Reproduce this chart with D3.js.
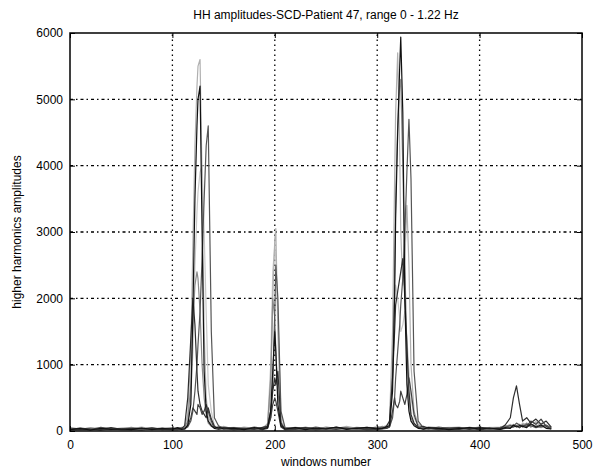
<!DOCTYPE html>
<html>
<head>
<meta charset="utf-8">
<script src="https://cdn.jsdelivr.net/npm/d3@7"></script>
<style>
  body { margin: 0; background: #fff; }
  svg text { font-family: "Liberation Sans", Arial, sans-serif; fill: #000; }
</style>
</head>
<body>
<div id="chart"></div>
<script>
// Data
// ------------------------------

var windows = [
  0, 10, 20, 30, 40, 50, 60, 70, 80, 90, 100,
  105, 109,
  112, 115, 118, 120, 122, 124, 125, 127, 129, 131, 133, 135, 138, 141,
  145, 150,
  160, 170, 180, 188,
  193, 196, 198, 200, 201, 203, 206,
  210, 220, 230, 240, 250, 260, 270, 280, 290, 300,
  305, 309,
  312, 315, 317, 318, 320, 322, 323, 325, 327, 329, 331, 333, 336, 340,
  345, 350,
  360, 370, 380, 390, 400, 410, 420,
  425, 430, 433, 436, 439, 442, 446, 450, 455, 460, 465, 470
];

var seriesA = [
  35, 20, 40, 45, 30, 40, 25, 35, 45, 25, 45,
  40, 30,
  40, 100, 500, 1200, 2500, 3300, 3600, 3900, 4000, 3000, 1800, 700, 300, 80,
  55, 45,
  55, 40, 45, 35,
  120, 1000, 2400, 2800, 2600, 1800, 250,
  45, 35, 55, 40, 45, 30, 50, 35, 60, 45,
  45, 55,
  90, 1200, 2000, 2200, 2000, 1700, 1500, 1600, 1800, 1400, 900, 500, 200, 80,
  45, 55,
  45, 55, 40, 50, 35, 55, 40,
  60, 100, 80, 90, 60, 100, 70, 90, 70, 120, 50, 60
];

var seriesB = [
  40, 25, 50, 30, 20, 45, 35, 60, 30, 50, 40,
  30, 55,
  60, 250, 1200, 2800, 4300, 5200, 5500, 5600, 3800, 1500, 500, 220, 100, 60,
  40, 70,
  30, 60, 40, 50,
  80, 600, 2000, 2900, 3050, 1500, 150,
  40, 30, 60, 25, 50, 35, 70, 40, 30, 50,
  60, 80,
  120, 1500, 3800, 4800, 5700, 4200, 3000, 2200, 2600, 3400, 2500, 1000, 300, 100,
  60, 40,
  30, 50, 60, 30, 40, 50, 60,
  80, 60, 100, 70, 50, 120, 90, 60, 140, 80, 60, 40
];

var seriesC = [
  50, 30, 45, 25, 40, 35, 55, 25, 45, 30, 50,
  35, 50,
  50, 150, 700, 1600, 2200, 2400, 2300, 1800, 1000, 500, 250, 120, 70, 50,
  50, 60,
  35, 50, 30, 45,
  100, 800, 2000, 1700, 1200, 600, 100,
  35, 55, 40, 30, 60, 40, 35, 55, 45, 40,
  70, 50,
  100, 900, 2400, 3500, 4600, 5200, 5300, 4000, 2500, 1200, 500, 200, 100, 60,
  40, 60,
  50, 35, 45, 40, 60, 30, 55,
  70, 90, 60, 80, 100, 70, 120, 60, 90, 50, 80, 40
];

var seriesD = [
  30, 40, 20, 55, 35, 25, 40, 30, 50, 20, 35,
  25, 40,
  40, 60, 150, 300, 600, 1000, 1300, 1800, 2600, 3500, 4300, 4600, 1500, 200,
  80, 40,
  50, 30, 60, 40,
  60, 200, 700, 1800, 2500, 2000, 300,
  50, 40, 30, 60, 35, 45, 30, 50, 40, 60,
  50, 40,
  60, 200, 500, 800, 1200, 1600, 1900, 2300, 3000, 3900, 4700, 3800, 900, 150,
  50, 30,
  60, 40, 30, 55, 40, 35, 50,
  60, 80, 70, 120, 90, 60, 100, 80, 50, 70, 90, 50
];

var seriesE = [
  25, 45, 30, 20, 50, 25, 35, 40, 20, 40, 25,
  50, 35,
  80, 500, 1400, 2000, 1600, 900, 600, 400, 300, 250, 200, 350, 180, 70,
  35, 50,
  45, 35, 25, 55,
  70, 300, 600, 800, 700, 900, 120,
  25, 45, 50, 35, 40, 55, 45, 30, 50, 35,
  35, 70,
  150, 800, 1500, 1900, 2100, 2300, 2400, 2600, 2000, 1300, 600, 250, 120, 50,
  70, 45,
  35, 45, 50, 25, 55, 40, 35,
  90, 200, 500, 680, 400, 150, 200, 120, 180, 100, 150, 60
];

var seriesF = [
  15, 20, 25, 15, 30, 20, 25, 15, 35, 25, 20,
  20, 30,
  30, 80, 200, 350, 300, 250, 400, 350, 250, 300, 400, 300, 150, 40,
  25, 35,
  20, 30, 35, 20,
  40, 200, 400, 500, 450, 300, 60,
  20, 25, 35, 20, 30, 25, 40, 30, 20, 25,
  30, 40,
  60, 300, 500, 400, 350, 450, 600, 500, 400, 550, 800, 600, 250, 60,
  25, 35,
  20, 30, 25, 35, 20, 30, 25,
  40, 50, 60, 80, 50, 90, 70, 150, 100, 180, 70, 30
];

var seriesG = [
  20, 35, 15, 40, 25, 30, 20, 45, 25, 35, 30,
  45, 25,
  30, 90, 400, 1800, 3500, 4600, 5000, 5200, 3000, 900, 300, 150, 80, 40,
  60, 30,
  40, 20, 50, 30,
  50, 300, 900, 1500, 1200, 400, 80,
  30, 50, 20, 45, 30, 60, 25, 40, 55, 30,
  40, 60,
  80, 600, 2000, 3200, 4500, 5500, 5940, 4800, 2000, 700, 300, 150, 80, 40,
  30, 50,
  40, 20, 35, 50, 30, 45, 25,
  50, 40, 90, 60, 80, 70, 50, 110, 60, 90, 40, 30
];

var seriesList = [seriesA, seriesB, seriesC, seriesD, seriesE, seriesF, seriesG];
var seriesColors = ['#c8c8c8', '#b0b0b0', '#8a8a8a', '#555555', '#2e2e2e', '#404040', '#111111'];

var xTicks = [0, 100, 200, 300, 400, 500];
var yTicks = [0, 1000, 2000, 3000, 4000, 5000, 6000];

// Chart setup
// ------------------------------

var width = 593,
    height = 469,
    margin = { top: 33, right: 11, bottom: 38, left: 70 };

var svg = d3.select('#chart').append('svg')
    .attr('width', width)
    .attr('height', height);

var x = d3.scaleLinear().domain([0, 500]).range([margin.left, width - margin.right]);
var y = d3.scaleLinear().domain([0, 6000]).range([height - margin.bottom, margin.top]);

svg.append('clipPath').attr('id', 'plotClip')
  .append('rect')
    .attr('x', x(0))
    .attr('y', y(6000))
    .attr('width', x(500) - x(0))
    .attr('height', y(0) - y(6000));

// grid (MATLAB style dotted)
var grid = svg.append('g').attr('class', 'grid');

grid.selectAll('line.vx')
  .data(xTicks.slice(1, -1))
  .enter().append('line')
    .attr('class', 'vx')
    .attr('x1', function(d) { return x(d); })
    .attr('x2', function(d) { return x(d); })
    .attr('y1', y(0))
    .attr('y2', y(6000))
    .attr('stroke', '#000')
    .attr('stroke-width', 1.3)
    .attr('stroke-dasharray', '1.5,3.5');

grid.selectAll('line.hy')
  .data(yTicks.slice(1, -1))
  .enter().append('line')
    .attr('class', 'hy')
    .attr('x1', x(0))
    .attr('x2', x(500))
    .attr('y1', function(d) { return y(d); })
    .attr('y2', function(d) { return y(d); })
    .attr('stroke', '#000')
    .attr('stroke-width', 1.3)
    .attr('stroke-dasharray', '3,3,1.5,3');

// lines
var line = d3.line()
    .x(function(d, i) { return x(windows[i]); })
    .y(function(d) { return y(d); });

svg.append('g')
    .attr('clip-path', 'url(#plotClip)')
  .selectAll('path')
  .data(seriesList)
  .enter().append('path')
    .attr('d', line)
    .attr('fill', 'none')
    .attr('stroke', function(d, i) { return seriesColors[i]; })
    .attr('stroke-width', 1.2)
    .attr('stroke-linejoin', 'round');

// axes, ticks inside like matlab
var fmt = d3.format('d');
var xAxis = d3.axisBottom(x).tickValues(xTicks).tickFormat(fmt).tickSizeInner(-5).tickSizeOuter(0).tickPadding(9);
var yAxis = d3.axisLeft(y).tickValues(yTicks).tickFormat(fmt).tickSizeInner(-5).tickSizeOuter(0).tickPadding(7);

svg.append('g')
    .attr('transform', 'translate(0,' + y(0) + ')')
    .call(xAxis);

svg.append('g')
    .attr('transform', 'translate(' + x(0) + ',0)')
    .call(yAxis);

svg.append('g')
    .attr('transform', 'translate(0,' + y(6000) + ')')
    .call(d3.axisTop(x).tickValues(xTicks).tickSizeInner(-5).tickSizeOuter(0).tickFormat(''));

svg.append('g')
    .attr('transform', 'translate(' + x(500) + ',0)')
    .call(d3.axisRight(y).tickValues(yTicks).tickSizeInner(-5).tickSizeOuter(0).tickFormat(''));

svg.selectAll('.domain').remove();
svg.selectAll('.tick line').attr('stroke', '#000').attr('stroke-width', 1);
svg.selectAll('.tick text').style('font-size', '12px').style('font-family', '"Liberation Sans", Arial, sans-serif');

// box
svg.append('rect')
    .attr('x', x(0))
    .attr('y', y(6000))
    .attr('width', x(500) - x(0))
    .attr('height', y(0) - y(6000))
    .attr('fill', 'none')
    .attr('stroke', '#000')
    .attr('stroke-width', 1.5);

// texts
svg.append('text')
    .attr('x', (x(0) + x(500)) / 2)
    .attr('y', 19)
    .attr('text-anchor', 'middle')
    .style('font-size', '12px')
    .text('HH amplitudes-SCD-Patient 47, range 0 - 1.22 Hz');

svg.append('text')
    .attr('x', (x(0) + x(500)) / 2)
    .attr('y', 466)
    .attr('text-anchor', 'middle')
    .style('font-size', '12px')
    .text('windows number');

svg.append('text')
    .attr('transform', 'translate(21,' + ((y(0) + y(6000)) / 2) + ') rotate(-90)')
    .attr('text-anchor', 'middle')
    .style('font-size', '12px')
    .text('higher harmonics amplitudes');
</script>
</body>
</html>
